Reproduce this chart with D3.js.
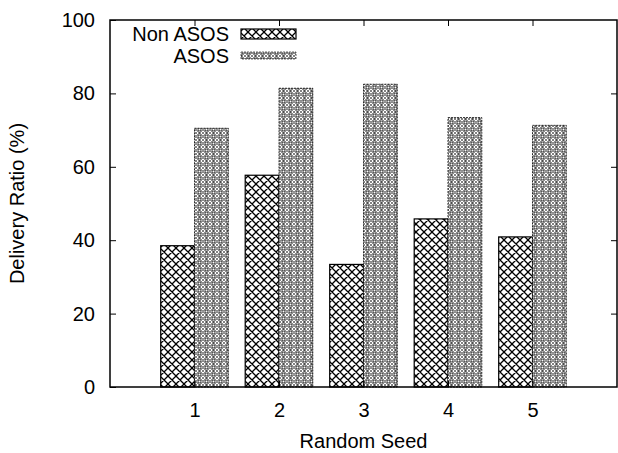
<!DOCTYPE html>
<html>
<head>
<meta charset="utf-8">
<script src="https://cdn.jsdelivr.net/npm/d3@7"></script>
<style>
  body { margin: 0; background: #fff; }
  svg { display: block; font-family: "Liberation Sans", Arial, sans-serif; }
</style>
</head>
<body>
<svg id="chart" width="618" height="453"></svg>
<script>
const seeds = [1, 2, 3, 4, 5];
const nonAsos = [38.5, 57.7, 33.4, 45.8, 40.9];
const asos = [70.5, 81.4, 82.5, 73.4, 71.3];
const yTicks = [0, 20, 40, 60, 80, 100];
const seriesNames = ["Non ASOS", "ASOS"];

const svg = d3.select("#chart");
const margin = { top: 20, right: 1, bottom: 66, left: 110 };
const width = 618, height = 453;

const x = d3.scaleLinear().domain([0, 6]).range([margin.left, width - margin.right]);
const y = d3.scaleLinear().domain([0, 100]).range([height - margin.bottom, margin.top]);
const barW = 0.4;

// fill patterns
const defs = svg.append("defs");
const p1 = defs.append("pattern")
  .attr("id", "hatch1").attr("patternUnits", "userSpaceOnUse")
  .attr("width", 8).attr("height", 8);
p1.append("rect").attr("width", 8).attr("height", 8).attr("fill", "#fff");
p1.append("path").attr("d", "M0,0L8,8M8,0L0,8M-1,7L1,9M7,-1L9,1M-1,1L1,-1M7,9L9,7")
  .attr("stroke", "#000").attr("stroke-width", 1.3);

const p2 = defs.append("pattern")
  .attr("id", "hatch2").attr("patternUnits", "userSpaceOnUse")
  .attr("width", 7).attr("height", 7);
p2.append("rect").attr("width", 7).attr("height", 7).attr("fill", "#fff");
p2.append("path").attr("d", "M0,3.5L3.5,0L7,3.5L3.5,7Z")
  .attr("stroke", "#000").attr("stroke-width", 0.9).attr("fill", "none");
p2.append("circle").attr("cx", 3.5).attr("cy", 3.5).attr("r", 1.4)
  .attr("stroke", "#000").attr("stroke-width", 0.8).attr("fill", "none");
p2.append("rect").attr("x", -0.7).attr("y", -0.7).attr("width", 1.4).attr("height", 1.4).attr("fill", "#000");
p2.append("rect").attr("x", 6.3).attr("y", 6.3).attr("width", 1.4).attr("height", 1.4).attr("fill", "#000");
p2.append("rect").attr("x", 6.3).attr("y", -0.7).attr("width", 1.4).attr("height", 1.4).attr("fill", "#000");
p2.append("rect").attr("x", -0.7).attr("y", 6.3).attr("width", 1.4).attr("height", 1.4).attr("fill", "#000");

// bars
const g = svg.append("g");
g.selectAll(".bar-non")
  .data(seeds)
  .enter()
  .append("rect")
  .attr("class", "bar-non")
  .attr("x", (d) => x(d - barW))
  .attr("width", x(barW) - x(0))
  .attr("y", (d, i) => y(nonAsos[i]))
  .attr("height", (d, i) => y(0) - y(nonAsos[i]))
  .attr("fill", "url(#hatch1)")
  .attr("stroke", "#000")
  .attr("stroke-width", 1.2);

g.selectAll(".bar-asos")
  .data(seeds)
  .enter()
  .append("rect")
  .attr("class", "bar-asos")
  .attr("x", (d) => x(d))
  .attr("width", x(barW) - x(0))
  .attr("y", (d, i) => y(asos[i]))
  .attr("height", (d, i) => y(0) - y(asos[i]))
  .attr("fill", "url(#hatch2)")
  .attr("stroke", "#000")
  .attr("stroke-width", 0.8)
  .attr("stroke-dasharray", "2,1");

// axes
const fontSize = "20px";
svg.append("g")
  .attr("transform", `translate(${margin.left},0)`)
  .call(d3.axisLeft(y).tickValues(yTicks).tickSize(-6).tickPadding(15))
  .call((a) => a.select(".domain").remove())
  .call((a) => a.selectAll("text").style("font-size", fontSize).attr("fill", "#000"));

svg.append("g")
  .attr("transform", `translate(${width - margin.right},0)`)
  .call(d3.axisRight(y).tickValues(yTicks.slice(1, -1)).tickSize(-6).tickFormat(""))
  .call((a) => a.select(".domain").remove());

svg.append("g")
  .attr("transform", `translate(0,${height - margin.bottom})`)
  .call(d3.axisBottom(x).tickValues(seeds).tickFormat(d3.format("d")).tickSize(-6).tickPadding(16))
  .call((a) => a.select(".domain").remove())
  .call((a) => a.selectAll("text").style("font-size", fontSize).attr("fill", "#000"));

svg.append("g")
  .attr("transform", `translate(0,${margin.top})`)
  .call(d3.axisTop(x).tickValues(seeds).tickSize(-6).tickFormat(""))
  .call((a) => a.select(".domain").remove());

// frame
svg.append("rect")
  .attr("x", margin.left)
  .attr("y", margin.top)
  .attr("width", width - margin.right - margin.left)
  .attr("height", height - margin.bottom - margin.top)
  .attr("fill", "none")
  .attr("stroke", "#000")
  .attr("stroke-width", 1.5);

// axis labels
svg.append("text")
  .attr("text-anchor", "middle")
  .attr("x", (margin.left + width - margin.right) / 2)
  .attr("y", 448)
  .style("font-size", fontSize)
  .text("Random Seed");

svg.append("text")
  .attr("text-anchor", "middle")
  .attr("transform", `translate(24,${(margin.top + height - margin.bottom) / 2}) rotate(-90)`)
  .style("font-size", fontSize)
  .text("Delivery Ratio (%)");

// legend
const legend = svg.append("g");
const fills = ["url(#hatch1)", "url(#hatch2)"];
seriesNames.forEach((name, i) => {
  legend.append("text")
    .attr("text-anchor", "end")
    .attr("x", 229)
    .attr("y", 41 + i * 22)
    .style("font-size", fontSize)
    .text(name);
  legend.append("rect")
    .attr("x", 241)
    .attr("y", i === 0 ? 29 : 52)
    .attr("width", 55)
    .attr("height", i === 0 ? 10 : 7)
    .attr("fill", fills[i])
    .attr("stroke", "#000")
    .attr("stroke-width", i === 0 ? 1.2 : 0.6)
    .attr("stroke-dasharray", i === 0 ? null : "2,1");
});
</script>
</body>
</html>
